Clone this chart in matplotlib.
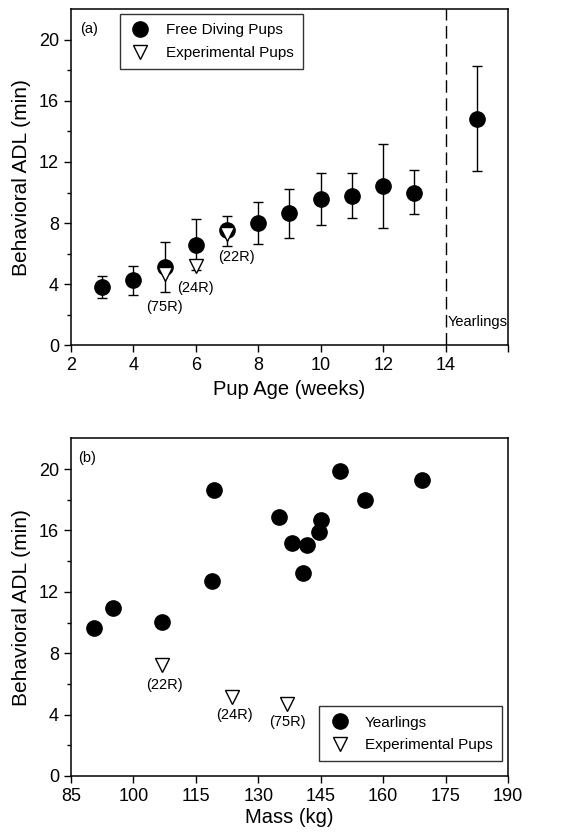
import numpy as np
import matplotlib
matplotlib.use("Agg")
import matplotlib.pyplot as plt
from matplotlib.ticker import FixedLocator

plt.rcParams['font.family'] = ['Liberation Sans', 'DejaVu Sans']

# panel (a): behavioural ADL vs pup age
age = [3, 4, 5, 6, 7, 8, 9, 10, 11, 12, 13]
adl = [3.82, 4.25, 5.13, 6.59, 7.52, 8.00, 8.68, 9.55, 9.77, 10.43, 9.99]
adl_hi = [4.51, 5.19, 6.76, 8.24, 8.46, 9.38, 10.23, 11.28, 11.28, 13.2, 11.45]
adl_lo = [3.10, 3.29, 3.49, 4.94, 6.50, 6.61, 7.04, 7.85, 8.33, 7.70, 8.57]
yr_x = [15]
yr_adl = [14.81]
yr_hi = [18.28]
yr_lo = [11.43]
exp_age = [5, 6, 7]
exp_adl = [4.69, 5.19, 7.31]
exp_ids = ['(75R)', '(24R)', '(22R)']
exp_lab_a = [(5.0, 2.5), (6.0, 3.75), (7.3, 5.8)]
age_ticks = [2, 4, 6, 8, 10, 12, 14, 16]
age_labels = ['2', '4', '6', '8', '10', '12', '14', '']

# panel (b): behavioural ADL vs mass
mass = [90.6, 95.1, 106.9, 119.0, 119.4, 134.9, 138.1, 141.6, 140.7, 144.5, 145.0, 149.6, 155.6, 169.4]
mass_adl = [9.66, 10.96, 10.03, 12.70, 18.63, 16.86, 15.15, 15.06, 13.22, 15.88, 16.71, 19.89, 18.01, 19.28]
exp_mass = [106.9, 123.8, 136.9]
exp_mass_adl = [7.22, 5.16, 4.68]
exp_ids_b = ['(22R)', '(24R)', '(75R)']
exp_lab_b = [(107.5, 5.9), (124.3, 3.95), (137.0, 3.5)]
mass_ticks = [85, 100, 115, 130, 145, 160, 175, 190]

fig = plt.figure(figsize=(5.86, 8.4), dpi=100)
ax1 = fig.add_axes([0.121, 0.589, 0.746, 0.4])
ax2 = fig.add_axes([0.121, 0.0762, 0.746, 0.402])

ms = 11
for ax in (ax1, ax2):
    ax.set_ylim(0, 22)
    ax.yaxis.set_major_locator(FixedLocator([0, 4, 8, 12, 16, 20]))
    ax.yaxis.set_minor_locator(FixedLocator([2, 6, 10, 14, 18]))
    ax.tick_params(direction='out', length=5, width=1, labelsize=13, top=False, right=False)
    ax.tick_params(which='minor', direction='out', length=3, width=1)
    for s in ax.spines.values():
        s.set_linewidth(1.1)
    ax.set_ylabel('Behavioral ADL (min)', fontsize=15, labelpad=6)

legkw = dict(fontsize=11, frameon=True, fancybox=False, edgecolor='black',
             borderpad=0.6, handlelength=1.5, handletextpad=0.9, labelspacing=0.55,
             borderaxespad=0)

# (a)
yerr = [np.array(adl) - np.array(adl_lo), np.array(adl_hi) - np.array(adl)]
ax1.errorbar(age, adl, yerr=yerr, fmt='o', color='black', ms=ms, capsize=3.5,
             elinewidth=1, capthick=1, zorder=3)
yerr2 = [np.array(yr_adl) - np.array(yr_lo), np.array(yr_hi) - np.array(yr_adl)]
ax1.errorbar(yr_x, yr_adl, yerr=yerr2, fmt='o', color='black', ms=ms, capsize=3.5,
             elinewidth=1, capthick=1, zorder=3)
h2, = ax1.plot(exp_age, exp_adl, 'v', ms=10, mfc='white', mec='black', mew=1,
               ls='none', zorder=4)
for (tx, ty), t in zip(exp_lab_a, exp_ids):
    ax1.text(tx, ty, t, ha='center', va='center', fontsize=10.5)
ax1.axvline(14, color='black', lw=1, dashes=(9, 4))
ax1.text(14.05, 1.55, 'Yearlings', fontsize=10.5, ha='left', va='center')
ax1.text(2.3, 20.7, '(a)', fontsize=10.5, ha='left', va='center')
ax1.set_xlim(2, 16)
ax1.xaxis.set_major_locator(FixedLocator(age_ticks))
ax1.set_xticklabels(age_labels)
ax1.set_xlabel('Pup Age (weeks)', fontsize=14.5)
dot = plt.Line2D([], [], marker='o', color='black', ms=ms, ls='none')
leg1 = ax1.legend([dot, h2], ['Free Diving Pups', 'Experimental Pups'],
                  loc='upper left', bbox_to_anchor=(0.112, 0.985), **legkw)
leg1.get_frame().set_linewidth(1)

# (b)
h3, = ax2.plot(mass, mass_adl, 'o', color='black', ms=ms, ls='none', zorder=3)
h4, = ax2.plot(exp_mass, exp_mass_adl, 'v', ms=10, mfc='white', mec='black', mew=1,
               ls='none', zorder=3)
for (tx, ty), t in zip(exp_lab_b, exp_ids_b):
    ax2.text(tx, ty, t, ha='center', va='center', fontsize=10.5)
ax2.text(86.8, 20.7, '(b)', fontsize=10.5, ha='left', va='center')
ax2.set_xlim(85, 190)
ax2.xaxis.set_major_locator(FixedLocator(mass_ticks))
ax2.set_xlabel('Mass (kg)', fontsize=14.5, labelpad=2)
leg2 = ax2.legend([h3, h4], ['Yearlings', 'Experimental Pups'],
                  loc='lower right', bbox_to_anchor=(0.986, 0.044), **legkw)
leg2.get_frame().set_linewidth(1)

fig.savefig('out.png', dpi=100)
